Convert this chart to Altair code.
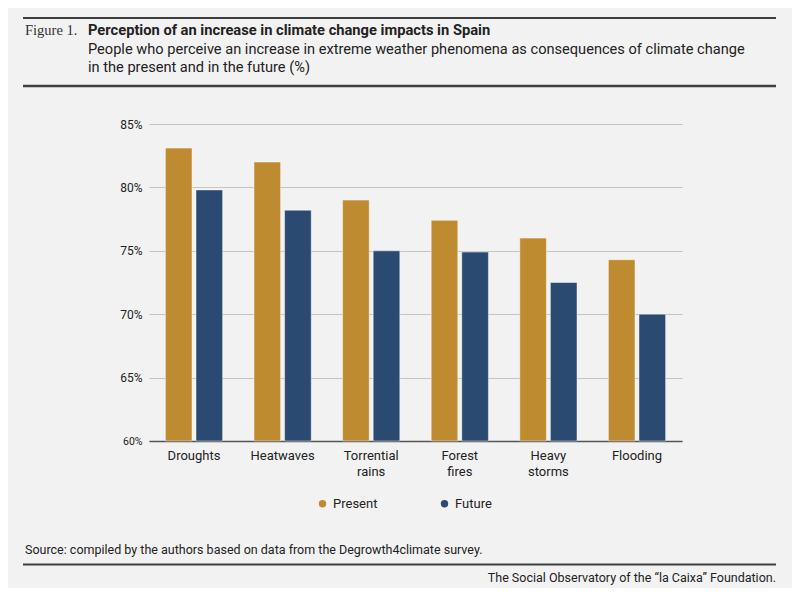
import pandas as pd
import altair as alt

# ── data ─────────────────────────────────────────────────────────────────────

HAZARDS = ["Droughts", "Heatwaves", "Torrential rains", "Forest fires",
           "Heavy storms", "Flooding"]
PRESENT = [83.1, 82.0, 79.0, 77.4, 76.0, 74.3]
FUTURE  = [79.8, 78.2, 75.0, 74.9, 72.5, 70.0]
SERIES  = ["Present", "Future"]
Y_TICKS = [60, 65, 70, 75, 80, 85]

TITLE    = "Perception of an increase in climate change impacts in Spain"
SUB_1    = ("People who perceive an increase in extreme weather phenomena as "
            "consequences of climate change")
SUB_2    = "in the present and in the future (%)"
FIG_NO   = "Figure 1."
SOURCE   = "Source: compiled by the authors based on data from the Degrowth4climate survey."
FOOTER   = "The Social Observatory of the \u201cla Caixa\u201d Foundation."

# ── colour constants ─────────────────────────────────────────────────────────

PRESENT_FILL = "#BF8B30"
FUTURE_FILL  = "#2A4A72"
BG           = "#F2F2F2"
GRID         = "#C4C4C4"
RULE         = "#3F3F3F"
TEXT_COLOR   = "#222222"
FONT         = "Roboto"

# ── long table ───────────────────────────────────────────────────────────────

df = pd.DataFrame({
    "hazard": HAZARDS * 2,
    "series": ["Present"] * len(HAZARDS) + ["Future"] * len(HAZARDS),
    "value":  PRESENT + FUTURE,
})

W, H = 533, 317

bars = (
    alt.Chart(df)
    .mark_bar(stroke="white", strokeOpacity=0.45, strokeWidth=1)
    .encode(
        x=alt.X(
            "hazard:N",
            sort=HAZARDS,
            title=None,
            scale=alt.Scale(paddingInner=0.354, paddingOuter=0.185),
            axis=alt.Axis(
                labelExpr="split(datum.label, ' ')",
                labelAngle=0,
                labelFont=FONT,
                labelFontSize=13,
                labelColor=TEXT_COLOR,
                labelLineHeight=16,
                labelPadding=8,
                ticks=False,
                domainColor="#555555",
                domainWidth=1.5,
                grid=False,
            ),
        ),
        xOffset=alt.XOffset("series:N", sort=SERIES,
                            scale=alt.Scale(paddingInner=0.13)),
        y=alt.Y(
            "value:Q",
            title=None,
            scale=alt.Scale(domain=[60, 85], nice=False, zero=False),
            axis=alt.Axis(
                values=Y_TICKS,
                labelExpr="datum.value + '%'",
                labelFont=FONT,
                labelFontSize={"condition": {"test": "datum.value == 60", "value": 10.5},
                               "value": 12},
                labelColor=TEXT_COLOR,
                labelPadding=7,
                ticks=False,
                domain=False,
                gridColor=GRID,
                gridWidth=1.2,
            ),
        ),
        y2=alt.datum(60),
        color=alt.Color(
            "series:N",
            sort=SERIES,
            scale=alt.Scale(domain=SERIES, range=[PRESENT_FILL, FUTURE_FILL]),
            legend=alt.Legend(
                title=None,
                orient="none",
                legendX=167,
                legendY=373,
                direction="horizontal",
                symbolType="circle",
                symbolSize=55,
                symbolStrokeWidth=0,
                labelFont=FONT,
                labelFontSize=13,
                labelColor=TEXT_COLOR,
                labelOffset=4,
                columnPadding=60,
            ),
        ),
    )
)

# ── decoration helpers ───────────────────────────────────────────────────────

def text_at(label, x, y, size=13, weight="normal", align="left",
            font=FONT, color=TEXT_COLOR):
    return (
        alt.Chart(pd.DataFrame({"label": [label]}))
        .mark_text(align=align, baseline="alphabetic", font=font,
                   fontSize=size, fontWeight=weight, color=color)
        .encode(x=alt.value(x), y=alt.value(y), text="label:N")
    )


def rule_at(y, width=2):
    return (
        alt.Chart(pd.DataFrame({"k": [0]}))
        .mark_rule(color=RULE, strokeWidth=width)
        .encode(x=alt.value(-126), x2=alt.value(627), y=alt.value(y))
    )


decor = [
    rule_at(-106),
    text_at(FIG_NO, -124, -89, size=14.5, font="Liberation Serif", color="#333333"),
    text_at(TITLE, -61, -89, size=14.7, weight="bold"),
    text_at(SUB_1, -61, -70, size=14.6),
    text_at(SUB_2, -61, -52, size=14.6),
    rule_at(-38, width=2.5),
    text_at(SOURCE, -124, 430, size=12.5),
    rule_at(440.5),
    text_at(FOOTER, 627, 458, size=12.5, align="right"),
]

chart = (
    alt.layer(bars, *decor)
    .properties(
        width=W,
        height=H,
        autosize=alt.AutoSizeParams(type="none"),
        padding={"left": 141, "top": 116, "right": 110, "bottom": 147},
    )
    .configure(background=BG, font=FONT)
    .configure_view(strokeWidth=0)
)

chart.save("out.html", embed_options={"renderer": "svg", "actions": False})
